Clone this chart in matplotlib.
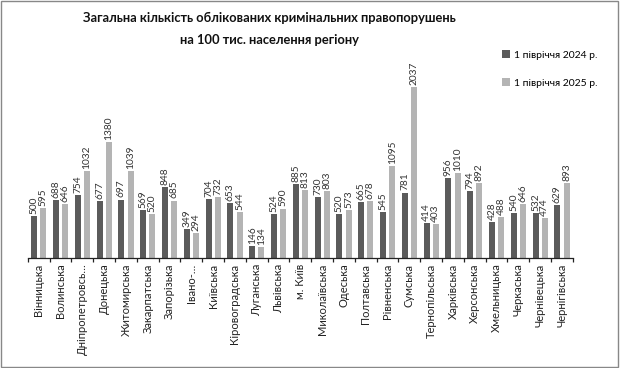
import matplotlib
matplotlib.use("Agg")
import matplotlib.pyplot as plt
import numpy as np
from matplotlib.patches import Rectangle

regions = ["Вінницька", "Волинська", "Дніпропетровсь…", "Донецька", "Житомирська",
           "Закарпатська", "Запорізька", "Івано-…", "Київська", "Кіровоградська",
           "Луганська", "Львівська", "м. Київ", "Миколаївська", "Одеська",
           "Полтавська", "Рівненська", "Сумська", "Тернопільська", "Харківська",
           "Херсонська", "Хмельницька", "Черкаська", "Чернівецька", "Чернігівська"]
v2024 = [500, 688, 754, 677, 697, 569, 848, 349, 704, 653, 146, 524, 885, 730, 520,
         665, 545, 781, 414, 956, 794, 428, 540, 532, 629]
v2025 = [595, 646, 1032, 1380, 1039, 520, 685, 294, 732, 544, 134, 590, 813, 803, 573,
         678, 1095, 2037, 403, 1010, 892, 488, 646, 474, 893]
series_names = ["1 півріччя 2024 р.", "1 півріччя 2025 р."]
title_lines = ["Загальна кількість облікованих кримінальних правопорушень",
               "на 100 тис. населення регіону"]

plt.rcParams['font.family'] = ['Lato', 'DejaVu Sans']

c_dark = "#5b5b5b"
c_light = "#b4b4b4"

fig = plt.figure(figsize=(6.2, 3.68), dpi=100)
ax = fig.add_axes([0.045, 0.299, 0.879, 0.592])

x = np.arange(len(regions))
w = 0.28
off = 0.21
b1 = ax.bar(x - off, v2024, w, color=c_dark, label=series_names[0])
b2 = ax.bar(x + off, v2025, w, color=c_light, label=series_names[1])

for xs, vals in ((x - off, v2024), (x + off, v2025)):
    for xi, v in zip(xs, vals):
        ax.text(xi, v + 25, str(v), rotation=90, ha="center", va="bottom",
                fontsize=7.3, color="#333333")

ax.set_xlim(-0.5, len(regions) - 0.5)
ax.set_ylim(0, 2600)
ax.set_yticks([])
for s in ["top", "right", "left"]:
    ax.spines[s].set_visible(False)
ax.spines["bottom"].set_color("#222222")
ax.spines["bottom"].set_linewidth(0.9)

ax.set_xticks(np.arange(len(regions) + 1) - 0.5)
ax.set_xticklabels([])
ax.tick_params(axis="x", which="major", length=3, width=0.9, color="#222222")
ax.set_xticks(x, minor=True)
ax.set_xticklabels(regions, minor=True, rotation=90, fontsize=8, color="#222222")
ax.tick_params(axis="x", which="minor", length=0, pad=4)

fig.text(0.435, 1 - 18 / 368, title_lines[0], ha="center", va="center",
         fontsize=9.3, fontweight="bold", color="#111111")
fig.text(0.435, 1 - 40 / 368, title_lines[1], ha="center", va="center",
         fontsize=9.3, fontweight="bold", color="#111111")

fig.legend(handles=[b1, b2], loc="center left", bbox_to_anchor=(0.795, 1 - 69 / 368),
           frameon=False, fontsize=7.5,
           handlelength=0.7, handleheight=0.7, handletextpad=0.4, labelspacing=1.8)

fig.add_artist(Rectangle((0.002, 0.003), 0.994, 0.994, transform=fig.transFigure,
                         fill=False, edgecolor="#888888", linewidth=1))

fig.savefig("out.png", dpi=100)
